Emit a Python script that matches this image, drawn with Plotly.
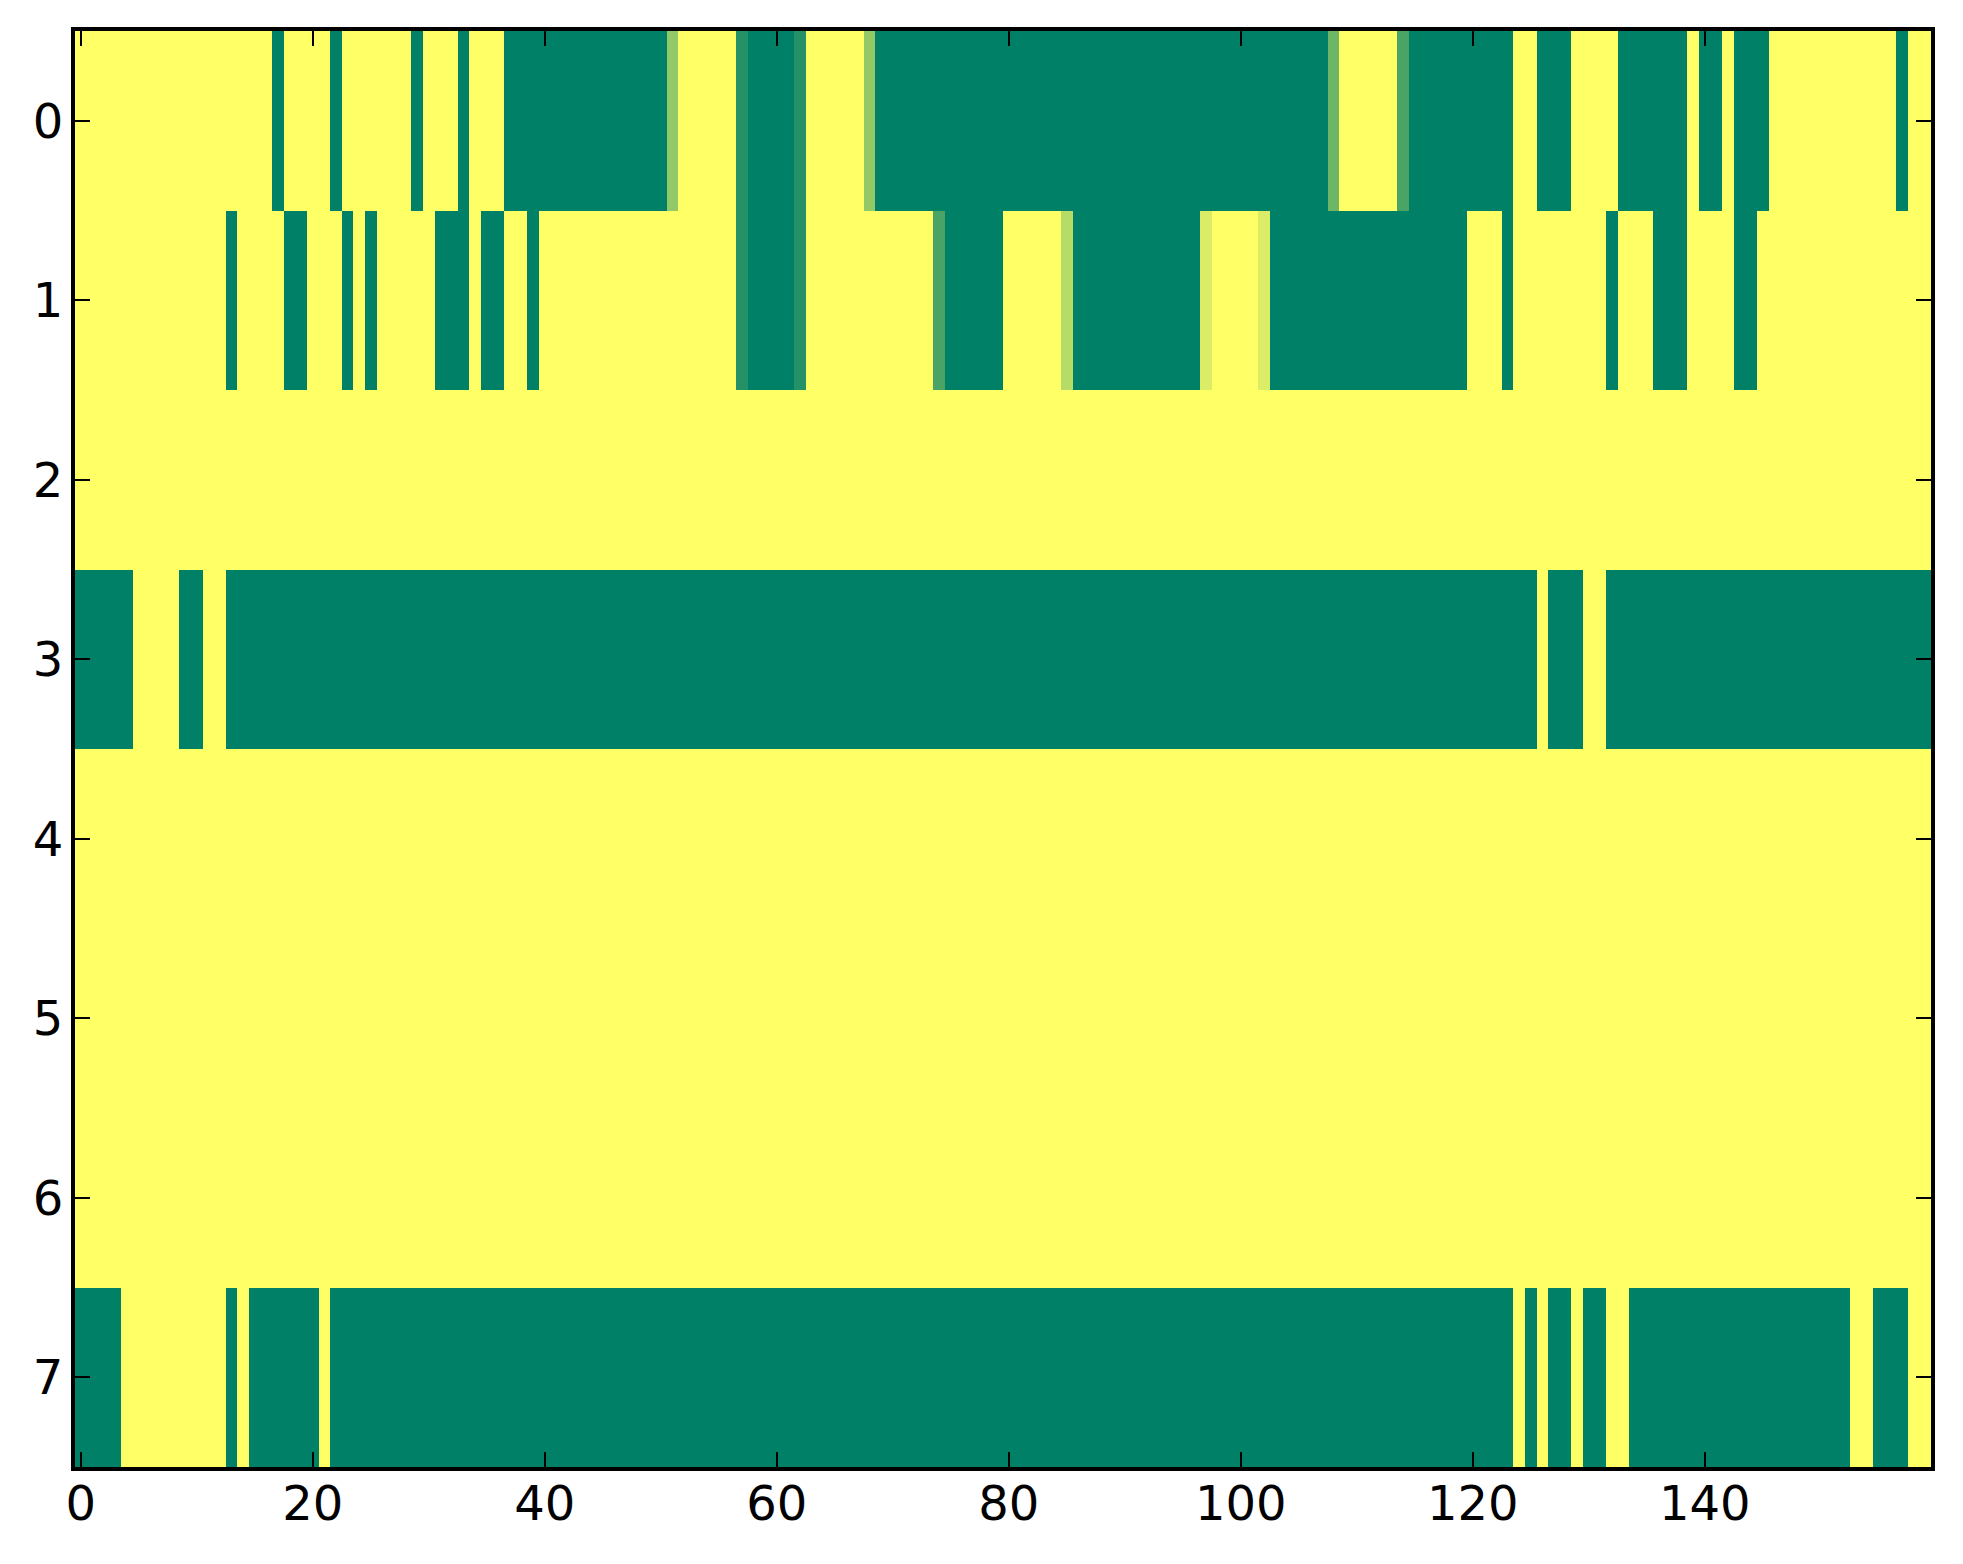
import plotly.graph_objects as go

# Run-length encoded rows: (value, count); values are fractions in [0, 1]
row0_runs = [(1, 17), (0, 1), (1, 4), (0, 1), (1, 6), (0, 1), (1, 3), (0, 1), (1, 3),
             (0, 14), (4/7, 1), (1, 5), (1/7, 1), (0, 4), (1/7, 1), (1, 5), (4/7, 1),
             (0, 39), (3/7, 1), (1, 5), (2/7, 1), (0, 9), (1, 2), (0, 3), (1, 4),
             (0, 6), (1, 1), (0, 2), (1, 1), (0, 3), (1, 11), (0, 1), (1, 2)]
row1_runs = [(1, 13), (0, 1), (1, 4), (0, 2), (1, 3), (0, 1), (1, 1), (0, 1), (1, 5),
             (0, 3), (1, 1), (0, 2), (1, 2), (0, 1), (1, 17), (1/7, 1), (0, 4), (1/7, 1),
             (1, 11), (2/7, 1), (0, 5), (1, 5), (5/7, 1), (0, 11), (6/7, 1), (1, 4),
             (6/7, 1), (0, 17), (1, 3), (0, 1), (1, 8), (0, 1), (1, 3), (0, 3), (1, 4),
             (0, 2), (1, 15)]
row2_runs = [(1, 160)]
row3_runs = [(0, 5), (1, 4), (0, 2), (1, 2), (0, 113), (1, 1), (0, 3), (1, 2), (0, 28)]
row4_runs = [(1, 160)]
row5_runs = [(1, 160)]
row6_runs = [(1, 160)]
row7_runs = [(0, 4), (1, 9), (0, 1), (1, 1), (0, 6), (1, 1), (0, 102), (1, 1), (0, 1),
             (1, 1), (0, 2), (1, 1), (0, 2), (1, 2), (0, 19), (1, 2), (0, 3), (1, 2)]

x_tick_vals = [0, 20, 40, 60, 80, 100, 120, 140]
y_tick_vals = [0, 1, 2, 3, 4, 5, 6, 7]


def expand(runs):
    out = []
    for v, n in runs:
        out.extend([v] * n)
    return out


rows = [row0_runs, row1_runs, row2_runs, row3_runs, row4_runs, row5_runs, row6_runs, row7_runs]
z = [expand(r) for r in rows]
ncols = len(z[0])

summer = [[0.0, "rgb(0,128,102)"], [1.0, "rgb(255,255,102)"]]

fig = go.Figure(go.Heatmap(
    z=z,
    x=list(range(ncols)),
    y=list(range(len(z))),
    colorscale=summer,
    zmin=0, zmax=1,
    showscale=False,
    hoverinfo="skip",
))

axis_common = dict(
    showline=True, linecolor="black", linewidth=4, mirror="allticks",
    ticks="inside", ticklen=15, tickwidth=1.5, tickcolor="black",
    showgrid=False, zeroline=False,
    tickfont=dict(family="DejaVu Sans", size=48, color="black"),
)

fig.update_xaxes(range=[-0.5, ncols - 0.5], tickvals=x_tick_vals,
                 ticklabelstandoff=-9, **axis_common)
fig.update_yaxes(range=[len(z) - 0.5, -0.5], tickvals=y_tick_vals,
                 ticklabelstandoff=-2, **axis_common)

fig.update_layout(
    width=1963, height=1564,
    margin=dict(l=67, r=40, t=23, b=105),
    paper_bgcolor="white", plot_bgcolor="white",
)

fig.write_html("out.html")
